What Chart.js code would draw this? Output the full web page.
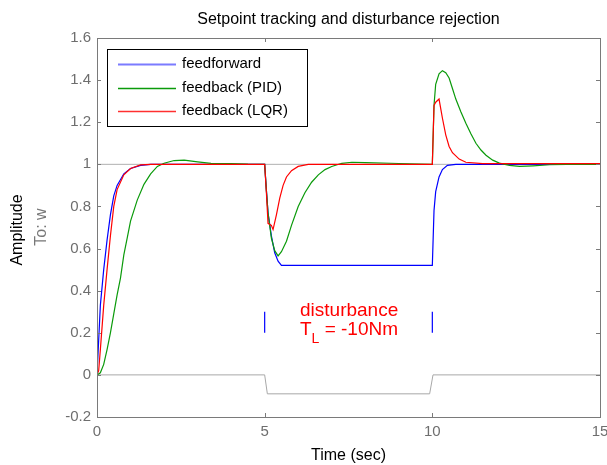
<!DOCTYPE html>
<html>
<head>
<meta charset="utf-8">
<script src="https://cdn.jsdelivr.net/npm/chart.js@4"></script>
<style>
  body { margin: 0; background: #fff; }
</style>
</head>
<body>
<canvas id="chart" width="607" height="465"></canvas>
<script>
// time (sec) and amplitude
const ffT = [0, 0.1, 0.2, 0.3, 0.4, 0.5, 0.6, 0.8, 1.0, 1.3, 1.6, 5.0, 5.05, 5.1, 5.2, 5.3, 5.4, 5.5, 10.0, 10.05, 10.1, 10.2, 10.3, 10.45, 10.7, 15];
const ffY = [0, 0.33, 0.5, 0.64, 0.76, 0.85, 0.9, 0.955, 0.98, 0.995, 1.0, 1.0, 0.88, 0.77, 0.66, 0.58, 0.54, 0.52, 0.52, 0.78, 0.87, 0.94, 0.975, 0.995, 1.0, 1.0];

const pidT = [0, 0.1, 0.2, 0.3, 0.4, 0.5, 0.6, 0.7, 0.8, 0.9, 1.0, 1.2, 1.4, 1.6, 1.8, 2.0, 2.3, 2.6, 3.0, 3.4, 4.0, 4.5, 5.0,
  5.05, 5.1, 5.2, 5.3, 5.4, 5.5, 5.65, 5.8, 6.0, 6.2, 6.4, 6.6, 6.8, 7.0, 7.3, 7.6, 8.0, 9.0, 10.0,
  10.05, 10.1, 10.2, 10.3, 10.4, 10.5, 10.6, 10.7, 10.85, 11.0, 11.15, 11.3, 11.45, 11.6, 11.8, 12.0, 12.3, 12.6, 13.0, 13.5, 14.0, 15];
const pidY = [0, 0.01, 0.05, 0.12, 0.2, 0.29, 0.38, 0.46, 0.57, 0.65, 0.73, 0.83, 0.905, 0.955, 0.99, 1.005, 1.018, 1.02, 1.012, 1.005, 1.004, 1.001, 1.0,
  0.88, 0.77, 0.65, 0.59, 0.565, 0.585, 0.635, 0.71, 0.8, 0.865, 0.915, 0.95, 0.975, 0.99, 1.005, 1.01, 1.008, 1.004, 1.0,
  1.28, 1.38, 1.43, 1.445, 1.435, 1.41, 1.36, 1.31, 1.25, 1.195, 1.145, 1.1, 1.068, 1.043, 1.02, 1.006, 0.995, 0.99, 0.993, 0.998, 1.0, 1.0];

const lqrT = [0, 0.05, 0.1, 0.2, 0.3, 0.4, 0.5, 0.6, 0.8, 1.0, 1.3, 1.6, 5.0,
  5.05, 5.1, 5.2, 5.25, 5.35, 5.45, 5.55, 5.65, 5.8, 6.0, 6.3, 10.0,
  10.05, 10.1, 10.2, 10.3, 10.4, 10.5, 10.6, 10.8, 11.0, 11.5, 15];
const lqrY = [0, 0.02, 0.12, 0.33, 0.5, 0.66, 0.8, 0.88, 0.95, 0.98, 0.997, 1.0, 1.0,
  0.87, 0.72, 0.71, 0.69, 0.76, 0.84, 0.9, 0.94, 0.97, 0.99, 1.0, 1.0,
  1.28, 1.295, 1.31, 1.22, 1.14, 1.085, 1.055, 1.025, 1.01, 1.003, 1.003];

// gray reference lines: setpoint and disturbance signal
const refT = [0, 15];
const refY = [1, 1];
const distT = [0, 5.0, 5.08, 9.92, 10.02, 15];
const distY = [0, 0, -0.09, -0.09, 0, 0];

// blue markers where the disturbance starts / stops
const markT = [5, 10];
const markY = [0.2, 0.3];

const xTicks = [0, 5, 10, 15];
const yTicks = [-0.2, 0, 0.2, 0.4, 0.6, 0.8, 1, 1.2, 1.4, 1.6];

const names = ["feedforward", "feedback (PID)", "feedback (LQR)"];
const colors = ["#0000ff", "#0a9a0a", "#ff0000"];
const legendColors = ["#7b7bff", "#0a9a0a", "#ff3030"];
const axisColor = "#7a7a7a";
const font = "Liberation Sans, Arial, sans-serif";

function pts(t, v) {
  return t.map((x, i) => ({ x: x, y: v[i] }));
}

const extras = {
  id: "extras",
  afterDraw(chart) {
    const ctx = chart.ctx;
    const a = chart.chartArea;
    const x = chart.scales.x, y = chart.scales.y;
    ctx.save();

    // box + inward ticks
    ctx.strokeStyle = axisColor;
    ctx.lineWidth = 1;
    ctx.strokeRect(Math.round(a.left) + 0.5, Math.round(a.top) + 0.5, Math.round(a.right - a.left), Math.round(a.bottom - a.top));
    ctx.beginPath();
    xTicks.forEach(v => {
      const px = Math.round(x.getPixelForValue(v)) + 0.5;
      ctx.moveTo(px, a.bottom); ctx.lineTo(px, a.bottom - 4);
      ctx.moveTo(px, a.top); ctx.lineTo(px, a.top + 4);
    });
    yTicks.forEach(v => {
      const py = Math.round(y.getPixelForValue(v)) + 0.5;
      ctx.moveTo(a.left, py); ctx.lineTo(a.left + 4, py);
      ctx.moveTo(a.right, py); ctx.lineTo(a.right - 4, py);
    });
    ctx.stroke();

    // title and axis titles
    ctx.fillStyle = "#000";
    ctx.textAlign = "center";
    ctx.textBaseline = "middle";
    ctx.font = "16px " + font;
    ctx.fillText("Setpoint tracking and disturbance rejection", (a.left + a.right) / 2, 20);
    ctx.fillText("Time (sec)", (a.left + a.right) / 2, 456);
    ctx.save();
    ctx.translate(18, 230);
    ctx.rotate(-Math.PI / 2);
    ctx.fillText("Amplitude", 0, 0);
    ctx.restore();
    ctx.save();
    ctx.fillStyle = "#777";
    ctx.translate(42, 227);
    ctx.rotate(-Math.PI / 2);
    ctx.fillText("To: w", 0, 0);
    ctx.restore();

    // legend
    ctx.fillStyle = "#fff";
    ctx.fillRect(107, 49, 201, 78);
    ctx.strokeStyle = "#000";
    ctx.lineWidth = 1;
    ctx.strokeRect(107.5, 49.5, 200, 77);
    const rows = [64, 88, 111];
    ctx.textAlign = "left";
    ctx.font = "15px " + font;
    names.forEach((n, i) => {
      ctx.beginPath();
      ctx.strokeStyle = legendColors[i];
      ctx.lineWidth = i === 0 ? 2 : 1.3;
      ctx.moveTo(118, rows[i] + 0.5);
      ctx.lineTo(176, rows[i] + 0.5);
      ctx.stroke();
      ctx.fillStyle = "#000";
      ctx.fillText(n, 182, rows[i]);
    });

    // disturbance annotation
    ctx.fillStyle = "#ff0000";
    ctx.textBaseline = "alphabetic";
    ctx.font = "19px " + font;
    ctx.fillText("disturbance", 300, 316);
    ctx.fillText("T", 300, 335);
    const tw = ctx.measureText("T").width;
    ctx.font = "14px " + font;
    ctx.fillText("L", 300 + tw, 343);
    const lw = ctx.measureText("L").width;
    ctx.font = "19px " + font;
    ctx.fillText(" = -10Nm", 300 + tw + lw, 335);

    ctx.restore();
  }
};

const line = (data, color, order, width) => ({
  data: data,
  borderColor: color,
  borderWidth: width,
  pointRadius: 0,
  fill: false,
  tension: 0,
  order: order
});

new Chart(document.getElementById("chart"), {
  type: "line",
  data: {
    datasets: [
      line(pts(refT, refY), "#b0b0b0", 6, 1),
      line(pts(distT, distY), "#a8a8a8", 5, 1),
      line(pts([markT[0], markT[0]], markY), "#0000ff", 4, 1.2),
      line(pts([markT[1], markT[1]], markY), "#0000ff", 4, 1.2),
      line(pts(ffT, ffY), colors[0], 3, 1.2),
      line(pts(pidT, pidY), colors[1], 2, 1.2),
      line(pts(lqrT, lqrY), colors[2], 1, 1.2)
    ]
  },
  options: {
    responsive: false,
    animation: false,
    devicePixelRatio: 1,
    layout: { padding: { left: 0, right: 7, top: 38, bottom: 0 } },
    plugins: { legend: { display: false }, title: { display: false }, tooltip: { enabled: false } },
    scales: {
      x: {
        type: "linear",
        min: 0,
        max: 15,
        afterBuildTicks: s => { s.ticks = xTicks.map(v => ({ value: v })); },
        ticks: { color: "#6e6e6e", font: { family: font, size: 15 }, padding: 6, maxRotation: 0 },
        grid: { display: false, drawTicks: false },
        border: { display: false },
        afterFit: s => { s.height = 48; s.paddingLeft = 0; s.paddingRight = 0; }
      },
      y: {
        min: -0.2,
        max: 1.6,
        afterBuildTicks: s => { s.ticks = yTicks.map(v => ({ value: v })); },
        ticks: {
          color: "#6e6e6e",
          font: { family: font, size: 15 },
          padding: 6,
          callback: v => String(Math.round(v * 10) / 10)
        },
        grid: { display: false, drawTicks: false },
        border: { display: false },
        afterFit: s => { s.width = 97; s.paddingTop = 0; s.paddingBottom = 0; }
      }
    }
  },
  plugins: [extras]
});
</script>
</body>
</html>
